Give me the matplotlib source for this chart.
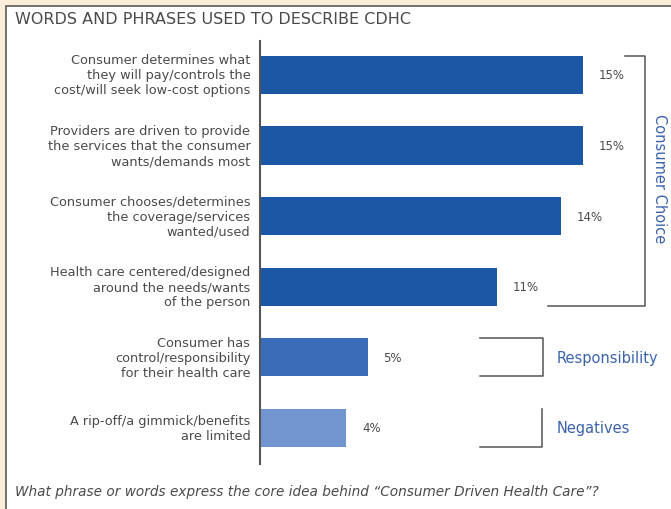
import matplotlib.pyplot as plt
from matplotlib.patches import Rectangle

# data
categories = [
    "Consumer determines what\nthey will pay/controls the\ncost/will seek low-cost options",
    "Providers are driven to provide\nthe services that the consumer\nwants/demands most",
    "Consumer chooses/determines\nthe coverage/services\nwanted/used",
    "Health care centered/designed\naround the needs/wants\nof the person",
    "Consumer has\ncontrol/responsibility\nfor their health care",
    "A rip-off/a gimmick/benefits\nare limited",
]
values = [15, 15, 14, 11, 5, 4]
value_labels = ["15%", "15%", "14%", "11%", "5%", "4%"]
groups = ["Consumer Choice", "Responsibility", "Negatives"]

bar_colors = ["#1c57a6", "#1c57a6", "#1c57a6", "#1c57a6", "#3a6cb8", "#7196cf"]
text_gray = "#4a4a4a"
line_gray = "#555555"
label_blue = "#3b62ab"

fig = plt.figure(figsize=(6.71, 5.1), dpi=100)
fig.patch.set_facecolor("#fbeed8")

# white panel with dark border on left/top
W, H = 671, 510
panel = Rectangle((6 / W, -0.01), 1.0, (H - 7) / H + 0.01, transform=fig.transFigure,
                  facecolor="white", edgecolor="#5a5a5a", linewidth=1.2, zorder=-5)
fig.patches.append(panel)

ax = fig.add_axes([260 / W, 45 / H, (W - 260) / W, 423 / H])
ax.set_zorder(2)
ax.set_facecolor("none")
ypos = list(range(len(values)))
bh = 0.54
ax.barh(ypos, values, height=bh, color=bar_colors, zorder=2)
ax.set_xlim(0, (W - 260) / 21.5)
ax.set_ylim(5.51, -0.48)

for y, v, lab in zip(ypos, values, value_labels):
    ax.text(v + 0.75, y, lab, va="center", ha="left", fontsize=8.5, color=text_gray)

for y, cat in zip(ypos, categories):
    ax.text(-0.45, y, cat, va="center", ha="right", multialignment="right",
            fontsize=9.3, color=text_gray, linespacing=1.2, clip_on=False)

for s in ["top", "right", "bottom"]:
    ax.spines[s].set_visible(False)
ax.spines["left"].set_color(line_gray)
ax.spines["left"].set_linewidth(1.5)
ax.set_xticks([])
ax.set_yticks([])

# group brackets
bk = dict(color=line_gray, lw=1.1, clip_on=False)
ax.plot([16.98, 17.9, 17.9, 13.4], [-bh / 2, -bh / 2, 3 + bh / 2, 3 + bh / 2], **bk)
ax.text(18.6, 1.45, groups[0], rotation=-90, va="center", ha="center",
        fontsize=10.5, color=label_blue, clip_on=False)

ax.plot([10.23, 13.16, 13.16, 10.23], [4 - bh / 2, 4 - bh / 2, 4 + bh / 2, 4 + bh / 2], **bk)
ax.text(13.8, 4, groups[1], va="center", ha="left", fontsize=10.5, color=label_blue)

ax.plot([13.12, 13.12, 10.23], [5 - bh / 2, 5 + bh / 2, 5 + bh / 2], **bk)
ax.text(13.8, 5, groups[2], va="center", ha="left", fontsize=10.5, color=label_blue)

fig.text(15 / W, 1 - 19 / H, "WORDS AND PHRASES USED TO DESCRIBE CDHC",
         fontsize=11.5, color=text_gray, va="center", ha="left")
fig.text(15 / W, 1 - 492 / H,
         "What phrase or words express the core idea behind \u201cConsumer Driven Health Care\u201d?",
         fontsize=9.8, style="italic", color=text_gray, va="center", ha="left")

fig.savefig("out.png", dpi=100, facecolor=fig.get_facecolor())
